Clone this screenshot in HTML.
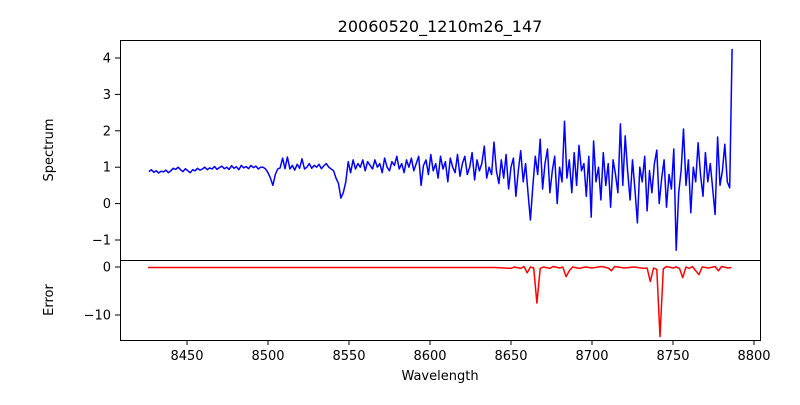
<!DOCTYPE html>
<html><head><meta charset="utf-8"><style>
body{margin:0;background:#fff}
svg text{font-family:"DejaVu Sans","Liberation Sans",sans-serif;fill:#000}
</style></head><body>
<svg id="c" width="800" height="400" viewBox="0 0 800 400">
<text x="440" y="32" font-size="16" text-anchor="middle">20060520_1210m26_147</text>
<text transform="translate(53,150) rotate(-90)" font-size="13" text-anchor="middle">Spectrum</text>
<text transform="translate(53,300) rotate(-90)" font-size="13" text-anchor="middle">Error</text>
<text x="440" y="380" font-size="13" text-anchor="middle">Wavelength</text>
<g id="g"></g>
</svg>
<script>
const xTicks=[8450,8500,8550,8600,8650,8700,8750,8800];
const specTicks=[-1,0,1,2,3,4];
const errTicks=[-10,0];
const specStart=8426.5, specStep=1.5;
const specVals=[0.88,0.93,0.86,0.9,0.84,0.89,0.87,0.92,0.85,0.9,0.97,0.94,1.0,0.93,0.88,0.96,0.9,0.85,0.93,0.9,
0.97,0.92,0.95,1.0,0.93,0.98,0.95,1.02,0.94,0.99,1.03,0.96,1.0,0.94,1.04,0.97,1.01,0.93,1.05,0.98,
1.02,0.96,1.05,0.99,1.03,0.95,1.0,1.0,0.95,0.85,0.7,0.5,0.8,0.95,0.98,1.25,0.96,1.28,0.95,1.05,
0.92,1.08,0.97,1.23,0.95,1.0,1.1,0.97,1.05,1.0,1.08,0.96,1.04,1.1,1.0,0.95,0.9,0.7,0.55,0.15,
0.3,0.6,1.15,0.85,1.2,0.95,1.1,1.0,1.2,0.9,1.15,1.05,0.95,1.2,1.0,1.1,0.85,1.25,1.0,0.9,
1.15,1.05,1.3,0.95,1.1,0.85,1.2,1.0,1.25,0.9,1.1,1.3,0.5,1.05,1.2,0.8,1.35,0.9,1.1,0.7,
1.3,0.95,1.15,0.6,1.25,1.0,0.85,1.35,0.75,1.1,1.3,0.8,1.0,1.4,0.65,1.2,0.9,1.1,1.58,0.7,
1.0,0.8,1.69,0.9,0.55,1.2,0.7,1.35,0.4,1.0,1.25,0.2,0.9,1.45,0.6,1.1,0.3,-0.45,0.5,1.3,
0.8,1.77,0.4,1.1,1.5,0.3,0.9,1.3,0.0,1.0,0.6,2.26,0.7,1.2,0.3,1.4,0.5,1.6,0.9,1.1,
0.2,1.3,-0.37,1.72,0.6,1.0,0.1,1.4,0.5,1.1,-0.1,1.2,0.8,0.3,2.19,0.5,1.86,0.9,0.1,1.2,
0.4,-0.53,1.0,0.6,1.3,-0.2,0.9,0.3,1.1,1.47,0.0,0.7,1.2,-0.1,0.8,0.4,1.5,-1.28,0.3,0.9,
2.05,0.5,1.2,-0.25,1.0,0.6,1.67,0.8,0.2,1.4,0.6,1.1,0.4,-0.3,1.83,0.5,0.9,1.63,0.6,0.43,4.25];
const errWave=[8426,8640,8650,8652,8656,8658,8660,8662,8664,8666,8668,8670,8674,8676,8680,8682,8684,8686,8688,8692,8696,8700,8706,8710,8712,8714,8720,8726,8732,8734,8736,8738,8740,8742,8744,8746,8750,8752,8754,8756,8758,8760,8762,8766,8768,8772,8776,8778,8780,8784,8786];
const errVals=[-0.1,-0.1,-0.3,0,-0.3,0.1,-1.2,0,-0.2,-7.5,-0.3,0,-0.3,0.1,-0.2,0,-2.0,-0.8,0,-0.3,0,-0.2,0.1,-0.2,-0.8,0.1,-0.2,0,-0.3,-0.2,-3.0,-0.2,-0.5,-14.5,-0.4,0.1,-0.2,0,-0.3,-2.2,0,-0.3,0.1,-1.6,0,-0.2,0.1,-0.8,0.1,-0.2,-0.1];

const X=w=>106+(w-8400)*1.62;
const YS=v=>203.6-v*36.4;
const YE=v=>267-v*4.8;
const g=document.getElementById('g');
const NS='http://www.w3.org/2000/svg';
function mk(t,a,p){const e=document.createElementNS(NS,t);for(const k in a)e.setAttribute(k,a[k]);(p||g).appendChild(e);return e;}

let d='';specVals.forEach((v,i)=>{d+=(i?'L':'M')+X(specStart+i*specStep).toFixed(1)+','+YS(v).toFixed(1);});
const sp=mk('path',{d:d,fill:'none',stroke:'#0000ff','stroke-width':1.5,'stroke-linejoin':'round'});


d='';errWave.forEach((w,i)=>{d+=(i?'L':'M')+X(w).toFixed(1)+','+YE(errVals[i]).toFixed(1);});
const er=mk('path',{d:d,fill:'none',stroke:'#ff0000','stroke-width':1.5,'stroke-linejoin':'round'});



const f1=mk('rect',{x:120.5,y:40.5,width:640,height:220,fill:'none',stroke:'#000','stroke-width':1});


const f2=mk('rect',{x:120.5,y:260.5,width:640,height:80,fill:'none',stroke:'#000','stroke-width':1});



xTicks.forEach(t=>{const x=X(t);
 mk('line',{x1:x,x2:x,y1:340,y2:345,stroke:'#000'});
 const tx=mk('text',{x:x,y:360,'font-size':13,'text-anchor':'middle'});tx.textContent=t;
 
 
});
specTicks.forEach(t=>{const y=YS(t);
 mk('line',{x1:115,x2:120,y1:y,y2:y,stroke:'#000'});
 const tx=mk('text',{x:111,y:y+4.5,'font-size':13,'text-anchor':'end'});tx.textContent=t<0?'\u2212'+(-t):t;
 
 
});
errTicks.forEach(t=>{const y=YE(t);
 mk('line',{x1:115,x2:120,y1:y,y2:y,stroke:'#000'});
 const tx=mk('text',{x:111,y:y+4.5,'font-size':13,'text-anchor':'end'});tx.textContent=t<0?'\u2212'+(-t):t;
 
 
});
</script>
</body></html>
